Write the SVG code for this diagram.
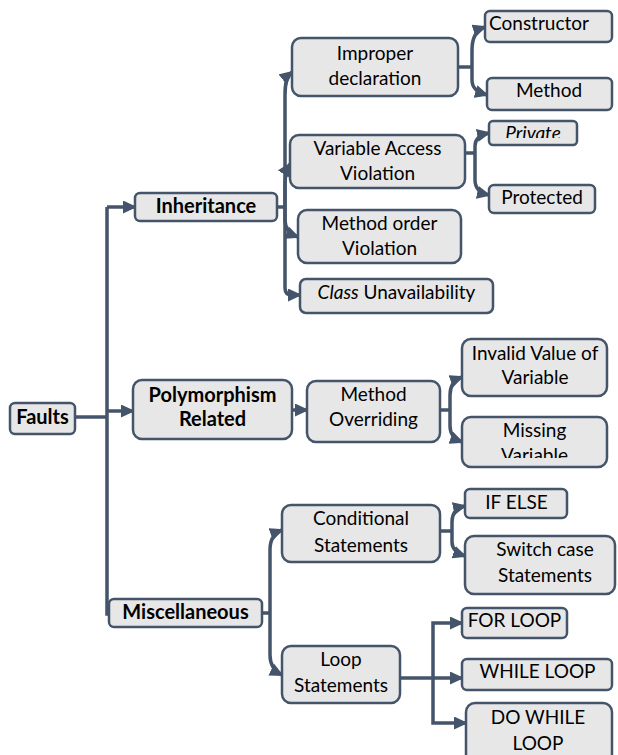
<svg xmlns="http://www.w3.org/2000/svg" width="618" height="755" viewBox="0 0 618 755">
  <defs>
    <marker id="arrow" markerUnits="userSpaceOnUse" markerWidth="14" markerHeight="13" refX="12" refY="6.5" orient="auto">
      <path d="M0,0 L14,6.5 L0,13 z" fill="#44546a"/>
    </marker>
    <clipPath id="clipPrivate"><rect x="489" y="121" width="88" height="17"/></clipPath>
    <clipPath id="clipMissing"><rect x="462" y="417" width="145" height="41"/></clipPath>
    <clipPath id="clipDoWhile"><rect x="466" y="703" width="146" height="47"/></clipPath>
  </defs>
  <style>
    rect.box { fill: #e7e7e7; stroke: #44546a; stroke-width: 2.5; }
    text { font-family: Lato, "Open Sans", sans-serif; font-size: 19px; fill: #000; text-anchor: middle; }
    text.b { font-weight: bold; font-size: 20px; }
    .it { font-style: italic; }
    #connectors path { fill: none; stroke: #44546a; stroke-width: 3.5; }
    #connectors path.arr { marker-end: url(#arrow); }
  </style>

  <rect width="618" height="755" fill="#ffffff"/>

  <g id="connectors">
    <!-- root trunk -->
    <path d="M75,417 H107"/>
    <path d="M107,207 V614 H110"/>
    <path class="arr" d="M107,207 H135"/>
    <path class="arr" d="M107,411 H133"/>
    <!-- Inheritance branches -->
    <path d="M277,207 H285"/>
    <path class="arr" d="M285,207 V95 C285,82 287,76 292,72"/>
    <path class="arr" d="M285,207 V185 C285,176 286,170 290,164"/>
    <path class="arr" d="M285,207 V220 C285,228 290,234 298,237"/>
    <path class="arr" d="M285,207 V288 Q285,295 292,295 H300"/>
    <!-- Improper declaration branches -->
    <path d="M458,67 H472"/>
    <path class="arr" d="M472,67 V50 C472,38 476,30 485,27"/>
    <path class="arr" d="M472,67 V80 C472,88 477,92 487,95"/>
    <!-- Variable Access Violation branches -->
    <path d="M465,153 H475"/>
    <path class="arr" d="M475,153 V146 C475,140 479,135 489,133"/>
    <path class="arr" d="M475,153 V180 C475,188 480,193 489,195"/>
    <!-- Polymorphism -->
    <path class="arr" d="M292,410 H307"/>
    <!-- Method Overriding branches -->
    <path d="M440,410 H450"/>
    <path class="arr" d="M450,410 V395 C450,386 454,380 462,377"/>
    <path class="arr" d="M450,410 V426 C450,434 454,439 462,442"/>
    <!-- Miscellaneous branches -->
    <path d="M262,613 H270"/>
    <path class="arr" d="M270,613 V550 C270,540 274,533 282,530"/>
    <path class="arr" d="M270,613 V655 C270,665 274,671 282,675"/>
    <!-- Conditional Statements branches -->
    <path d="M440,531 H452"/>
    <path class="arr" d="M452,531 V522 C452,514 456,508 465,506"/>
    <path class="arr" d="M452,531 V542 C452,549 456,553 465,556"/>
    <!-- Loop Statements branches -->
    <path class="arr" d="M400,678 H462"/>
    <path class="arr" d="M433,678 V623 H462"/>
    <path class="arr" d="M433,678 V723 H466"/>
  </g>

  <g id="faults">
    <rect class="box" x="10" y="403" width="65" height="31" rx="5"/>
    <text class="b" x="42.5" y="424">Faults</text>
  </g>
  <g id="inheritance">
    <rect class="box" x="135" y="193" width="142" height="28" rx="5"/>
    <text class="b" x="206" y="213">Inheritance</text>
  </g>
  <g id="polymorphism">
    <rect class="box" x="133" y="380" width="159" height="59" rx="9"/>
    <text class="b" x="212.5" y="402">Polymorphism</text>
    <text class="b" x="212.5" y="426">Related</text>
  </g>
  <g id="miscellaneous">
    <rect class="box" x="109" y="599" width="153" height="28" rx="5"/>
    <text class="b" x="185.5" y="619">Miscellaneous</text>
  </g>

  <g id="improper-declaration">
    <rect class="box" x="292" y="38" width="166" height="58" rx="9"/>
    <text x="375" y="60">Improper</text>
    <text x="375" y="85">declaration</text>
  </g>
  <g id="variable-access-violation">
    <rect class="box" x="290" y="135" width="175" height="53" rx="9"/>
    <text x="377.5" y="155">Variable Access</text>
    <text x="377.5" y="180">Violation</text>
  </g>
  <g id="method-order-violation">
    <rect class="box" x="298" y="210" width="163" height="53" rx="9"/>
    <text x="379.5" y="230">Method order</text>
    <text x="379.5" y="255">Violation</text>
  </g>
  <g id="class-unavailability">
    <rect class="box" x="300" y="279" width="193" height="34" rx="6"/>
    <text x="396.5" y="299"><tspan class="it">Class</tspan> Unavailability</text>
  </g>

  <g id="constructor">
    <rect class="box" x="485" y="11" width="127" height="31" rx="5"/>
    <text x="539" y="30">Constructor</text>
  </g>
  <g id="method">
    <rect class="box" x="487" y="78" width="125" height="32" rx="5"/>
    <text x="549" y="97">Method</text>
  </g>
  <g id="private">
    <rect class="box" x="489" y="121" width="88" height="24" rx="4"/>
    <text class="it" x="533" y="140" clip-path="url(#clipPrivate)">Private</text>
  </g>
  <g id="protected">
    <rect class="box" x="489" y="185" width="106" height="28" rx="5"/>
    <text x="542" y="204">Protected</text>
  </g>

  <g id="method-overriding">
    <rect class="box" x="307" y="381" width="133" height="61" rx="9"/>
    <text x="373.5" y="401">Method</text>
    <text x="373.5" y="426">Overriding</text>
  </g>
  <g id="invalid-value">
    <rect class="box" x="462" y="339" width="145" height="57" rx="9"/>
    <text x="535" y="360">Invalid Value of</text>
    <text x="535" y="384">Variable</text>
  </g>
  <g id="missing-variable">
    <rect class="box" x="462" y="417" width="145" height="50" rx="9"/>
    <text x="534.5" y="437" clip-path="url(#clipMissing)">Missing</text>
    <text x="534.5" y="462" clip-path="url(#clipMissing)">Variable</text>
  </g>

  <g id="conditional-statements">
    <rect class="box" x="282" y="505" width="158" height="57" rx="9"/>
    <text x="361" y="525">Conditional</text>
    <text x="361" y="552">Statements</text>
  </g>
  <g id="loop-statements">
    <rect class="box" x="282" y="646" width="118" height="57" rx="9"/>
    <text x="341" y="666">Loop</text>
    <text x="341" y="692">Statements</text>
  </g>
  <g id="if-else">
    <rect class="box" x="465" y="489" width="102" height="29" rx="5"/>
    <text x="516.5" y="509">IF ELSE</text>
  </g>
  <g id="switch-case">
    <rect class="box" x="465" y="536" width="150" height="58" rx="9"/>
    <text x="545" y="556">Switch case</text>
    <text x="545" y="582">Statements</text>
  </g>
  <g id="for-loop">
    <rect class="box" x="462" y="608" width="105" height="30" rx="5"/>
    <text x="514.5" y="627">FOR LOOP</text>
  </g>
  <g id="while-loop">
    <rect class="box" x="462" y="659" width="150" height="31" rx="5"/>
    <text x="537.5" y="678">WHILE LOOP</text>
  </g>
  <g id="do-while-loop">
    <rect class="box" x="466" y="703" width="146" height="60" rx="9"/>
    <text x="538" y="724" clip-path="url(#clipDoWhile)">DO WHILE</text>
    <text x="538" y="750" clip-path="url(#clipDoWhile)">LOOP</text>
  </g>
</svg>
